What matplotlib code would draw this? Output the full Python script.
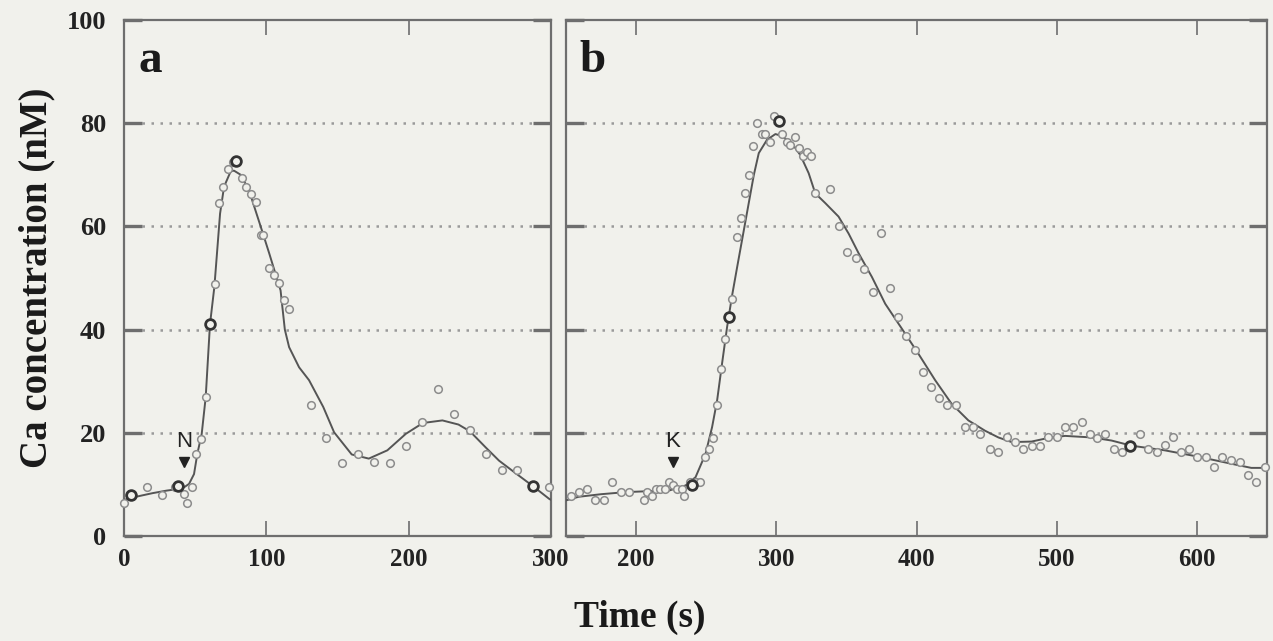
import matplotlib
matplotlib.use("Agg")
import matplotlib.pyplot as plt

# ---------------- data ----------------
# panel a
a_curve_x = [0, 10, 20, 30, 38, 42, 45.7, 49.2, 51.5, 54.6, 57.4, 60.4, 63.5, 67.5, 70.3, 75, 77.3, 82,
             87.8, 96, 102, 110, 113, 116, 123, 130, 140, 147.6, 160, 172, 185, 198, 210, 223.7, 235,
             243, 254, 263.5, 275, 287.6, 298.7, 300]
a_curve_y = [7.0, 7.7, 8.3, 8.8, 9.1, 9.4, 10.1, 12, 15.9, 19.8, 26.9, 41, 48.3, 62.5, 67.7, 70.7, 70.8, 70,
             67, 60, 54.8, 47.6, 40, 36.6, 32.7, 30.2, 25, 20.1, 15.8, 15, 16.6, 19.8, 21.9, 22.4, 21.6,
             20.3, 17.2, 14.6, 12.2, 9.6, 7.2, 7.0]
a_pts_x = [0, 16.4, 26.5, 35.6, 42, 44.5, 48, 50.8, 54.1, 57.4, 64, 66.8, 69.6, 73.1, 76.5, 82.7, 85.5, 89,
           92.5, 96, 97.7, 101.9, 105.4, 108.9, 112.4, 116, 131.2, 142.2, 153.4, 164.7, 175.9, 187.1,
           198, 209.6, 220.7, 231.9, 243.2, 254.2, 265.8, 276.4, 298.7]
a_pts_y = [6.3, 9.4, 8, 9.4, 8.2, 6.3, 9.4, 15.9, 18.8, 26.9, 48.8, 64.6, 67.7, 71.1, 72.4, 69.3, 67.7, 66.3,
           64.8, 58.3, 58.3, 52, 50.5, 49, 45.8, 44, 25.3, 19, 14.2, 15.9, 14.3, 14.2,
           17.5, 22, 28.4, 23.7, 20.6, 15.8, 12.7, 12.8, 9.4]
a_big_x = [4.7, 38, 60.4, 78.9, 287.6]
a_big_y = [8, 9.6, 41, 72.7, 9.6]

# panel b
b_curve_x = [150, 159, 175, 192.5, 210, 223.4, 235.3, 242.4, 249.5, 254.2, 257.8, 261.3, 264.9, 268.4,
             272, 276, 280, 284, 287.5, 293.4, 299.4, 304, 311.2, 317.2, 323.1, 327.8, 335, 344.4,
             351.6, 358.7, 368.2, 377.7, 389.5, 401.4, 413.3, 425.1, 437, 448.9, 458.4, 467.9, 482,
             494, 506, 524.9, 539.1, 553.4, 577.1, 600.4, 624.6, 638.8, 650]
b_curve_y = [6.9, 7.6, 8.1, 8.5, 8.7, 8.8, 9.8, 11.4, 15.9, 21.1, 26.3, 33.4, 40.5, 46.5,
             52, 58, 64, 70, 74.2, 76.8, 77.9, 77.5, 76.1, 73.8, 70.3, 66.4, 64.5, 61.9,
             58.6, 54.8, 50.2, 45, 40.2, 35.3, 30.2, 25.6, 22.4, 20.4, 19.1, 18.2, 18.3,
             19, 19.4, 19.1, 18.5, 17.5, 16.6, 15.4, 14, 13.2, 13.2]
b_pts_x = [153.3, 159.3, 165.2, 170.7, 177.1, 183, 189, 194.9, 205.6, 207.9, 211.5, 213.9, 217.4, 220.5,
           223.4, 226.2, 229.3, 232.4, 234, 238.8, 242.4, 245.9, 249, 251.9, 254.7, 257.8, 260.2, 263.2,
           268.4, 272, 274.9, 277.5, 280.3, 283.2, 286.3, 289.8, 292.2, 295.8, 298.1, 304.1, 307.6,
           310, 313.1, 316, 318.8, 321.9, 324.7, 327.8, 338, 344.4, 350.4, 356.8, 362.7, 368.9,
           374.6, 380.8, 386.7, 392.4, 398.6, 404.3, 410.2, 416.1, 422.1, 428, 434.7, 440.6, 445.4,
           452.5, 458.4, 464.3, 470.3, 476.2, 482.1, 488.1, 494, 499.9, 505.9, 511.8, 517.7, 523.7,
           529.1, 534.8, 540.8, 546.7, 559.3, 565.2, 571.2, 577.1, 583, 588.5, 594.4, 600.4, 606.3,
           612.3, 618.2, 624.6, 630.5, 636.5, 642.4, 648.4]
b_pts_y = [7.8, 8.5, 9.1, 7, 7, 10.5, 8.5, 8.5, 7, 8.5, 7.8, 9.1, 9.1, 9.1,
           10.4, 9.8, 9.1, 9.1, 7.7, 10.4, 10.4, 10.4, 15.4, 16.9, 19, 25.3, 32.4, 38.1,
           45.9, 58, 61.6, 66.4, 70, 75.6, 80.1, 78, 78, 76.4, 81.4, 78, 76.4,
           75.8, 77.3, 75.1, 73.6, 74.5, 73.6, 66.4, 67.2, 60.1, 55.1, 53.8, 51.7, 47.3,
           58.8, 48.1, 42.5, 38.8, 36, 31.8, 28.9, 26.8, 25.3, 25.3, 21.2, 21.2, 19.8,
           16.9, 16.2, 19.1, 18.3, 16.9, 17.5, 17.5, 19.1, 19.1, 21.2, 21.2, 22.1, 19.8,
           19, 19.8, 16.9, 16.2, 19.8, 16.9, 16.2, 17.7, 19.1, 16.2, 16.9, 15.4, 15.4,
           13.3, 15.4, 14.8, 14.3, 11.9, 10.4, 13.3]
b_big_x = [240, 266.1, 301.7, 552.6]
b_big_y = [9.8, 42.5, 80.5, 17.5]

a_xticks = [0, 100, 200, 300]
b_xticks = [200, 300, 400, 500, 600]
yticks = [0, 20, 40, 60, 80, 100]
grid_y = [20, 40, 60, 80]

a_marker = (42, "N")
b_marker = (226, "K")

# ---------------- style ----------------
BG = "#f1f1ec"
FRAME = "#6e6e6e"
LINE = "#555555"
PT = "#8c8c8c"
SERIF = ["Liberation Serif", "DejaVu Serif"]

fig = plt.figure(figsize=(12.73, 6.41), dpi=100, facecolor=BG)
axa = fig.add_axes([124 / 1273, 105 / 641, 427 / 1273, 516 / 641])
axb = fig.add_axes([566 / 1273, 105 / 641, 701 / 1273, 516 / 641])

panels = [
    (axa, (0, 300), a_xticks, a_curve_x, a_curve_y, a_pts_x, a_pts_y, a_big_x, a_big_y, a_marker, "a", 0.035),
    (axb, (150, 650), b_xticks, b_curve_x, b_curve_y, b_pts_x, b_pts_y, b_big_x, b_big_y, b_marker, "b", 0.019),
]

for ax, xl, xt, cx, cy, px, py, bx, by, mk, lab, labx in panels:
    ax.set_facecolor(BG)
    ax.set_xlim(*xl)
    ax.set_ylim(0, 100)
    for s in ax.spines.values():
        s.set_color(FRAME)
        s.set_linewidth(1.6)
    for g in grid_y:
        ax.axhline(g, color="#9a9a9a", lw=1.8, ls=(0, (1, 2.6)), zorder=1)
    ax.plot(cx, cy, color=LINE, lw=1.4, zorder=3)
    ax.plot(px, py, ls="none", marker="o", ms=5.5, mfc=BG, mec=PT, mew=1.1, zorder=4, clip_on=False)
    ax.plot(bx, by, ls="none", marker="o", ms=7, mfc=BG, mec="#333333", mew=2.0, zorder=5)
    # stimulus marker
    ax.plot([mk[0]], [14.3], marker="v", ms=7, color="#222222", ls="none", zorder=6)
    ax.text(mk[0], 16.2, mk[1], ha="center", va="bottom", fontsize=16, color="#222222",
            family=["Liberation Sans", "DejaVu Sans"])
    ax.text(labx, 0.899, lab, transform=ax.transAxes, ha="left", va="baseline",
            fontsize=34, fontweight="bold", family=SERIF, color="#1a1a1a")
    ax.set_xticks(xt)
    ax.set_yticks(yticks)
    ax.tick_params(axis="y", which="major", direction="in", length=13, width=2.4, color=FRAME,
                   left=True, right=True)
    ax.tick_params(axis="x", which="major", direction="in", length=11, width=1.2, color=FRAME,
                   bottom=True, top=True, pad=9)
    for t in ax.get_xticklabels():
        t.set_fontfamily(SERIF)
        t.set_fontweight("bold")
        t.set_fontsize(18)
        t.set_color("#222222")

axa.tick_params(axis="y", pad=13)
for t in axa.get_yticklabels():
    t.set_fontfamily(SERIF)
    t.set_fontweight("bold")
    t.set_fontsize(19)
    t.set_color("#222222")
axb.tick_params(axis="y", labelleft=False)

axa.set_ylabel("Ca concentration (nM)", fontsize=28, fontweight="bold", family=SERIF,
               color="#1a1a1a", labelpad=8)
fig.text(640 / 1273, 1 - 617 / 641, "Time (s)", ha="center", va="center", fontsize=27,
         fontweight="bold", family=SERIF, color="#1a1a1a")

fig.savefig("out.png", dpi=100, facecolor=BG)
